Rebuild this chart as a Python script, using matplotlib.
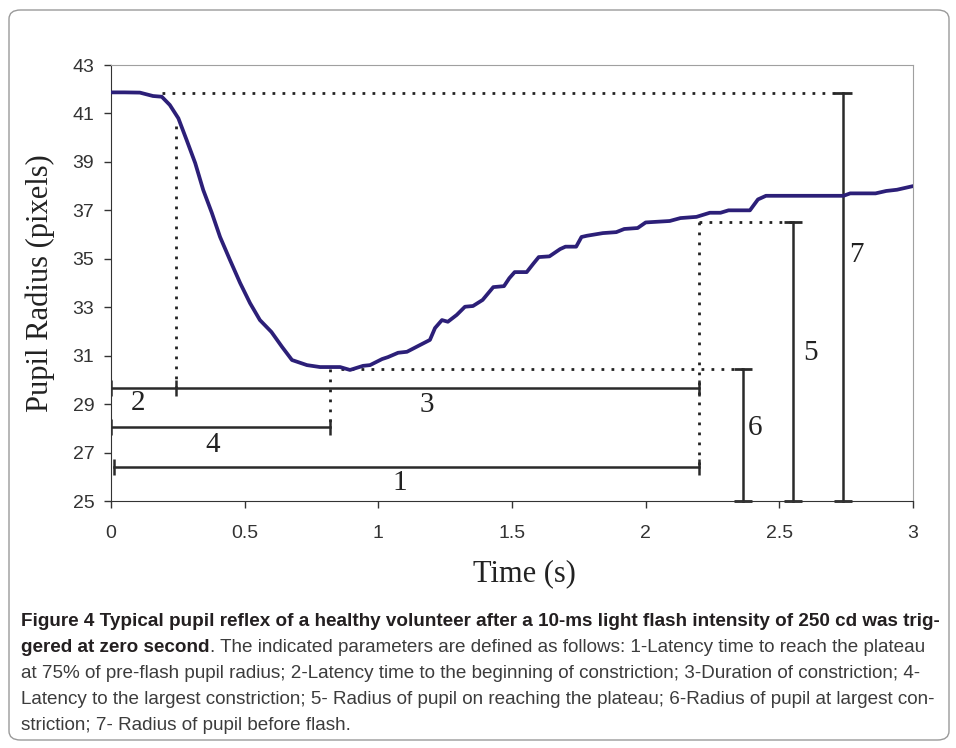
import matplotlib
matplotlib.use("Agg")
import matplotlib.pyplot as plt
from matplotlib.patches import FancyBboxPatch
from matplotlib import font_manager

# pupil radius trace
time_s = [0.00, 0.05, 0.108, 0.157, 0.19, 0.22, 0.252, 0.283, 0.315, 0.345, 0.377, 0.408,
          0.445, 0.483, 0.52, 0.557, 0.60, 0.64, 0.677, 0.733, 0.782, 0.857, 0.894, 0.943,
          0.969, 1.014, 1.036, 1.074, 1.107, 1.156, 1.193, 1.212, 1.238, 1.26, 1.293, 1.324,
          1.354, 1.39, 1.43, 1.47, 1.49, 1.51, 1.555, 1.58, 1.60, 1.64, 1.68, 1.70, 1.74,
          1.76, 1.78, 1.84, 1.89, 1.92, 1.97, 2.00, 2.09, 2.13, 2.19, 2.24, 2.28,
          2.31, 2.39, 2.42, 2.45, 2.74, 2.765, 2.86, 2.90, 2.94, 3.00]
radius = [41.87, 41.87, 41.86, 41.72, 41.69, 41.35, 40.80, 39.90, 38.95, 37.84, 36.90, 35.90,
          34.95, 34.00, 33.17, 32.47, 31.98, 31.36, 30.82, 30.61, 30.53, 30.53, 30.41, 30.58,
          30.61, 30.86, 30.94, 31.12, 31.16, 31.44, 31.65, 32.14, 32.47, 32.40, 32.68, 33.02,
          33.05, 33.30, 33.83, 33.87, 34.20, 34.45, 34.45, 34.80, 35.07, 35.10, 35.40, 35.50,
          35.50, 35.90, 35.95, 36.06, 36.10, 36.23, 36.27, 36.50, 36.56, 36.68, 36.73, 36.90,
          36.90, 37.00, 37.00, 37.45, 37.60, 37.60, 37.70, 37.70, 37.80, 37.85, 38.00]

# reference levels and times of the annotated parameters
r_before = 41.84
r_min = 30.47
r_plateau = 36.52
t_start = 0.245
t_min = 0.82
t_plateau = 2.2
x6, x5, x7 = 2.365, 2.55, 2.74
y23, y4, y1 = 29.66, 28.05, 26.4

labels = ["1", "2", "3", "4", "5", "6", "7"]
label_x = [1.08, 0.10, 1.18, 0.38, 2.615, 2.41, 2.79]
label_y = [25.75, 29.05, 28.95, 27.3, 31.1, 28.0, 35.15]

caption_lines = [
    [("Figure 4 Typical pupil reflex of a healthy volunteer after a 10-ms light flash intensity of 250 cd was trig-", "bold")],
    [("gered at zero second", "bold"),
     (". The indicated parameters are defined as follows: 1-Latency time to reach the plateau", "normal")],
    [("at 75% of pre-flash pupil radius; 2-Latency time to the beginning of constriction; 3-Duration of constriction; 4-", "normal")],
    [("Latency to the largest constriction; 5- Radius of pupil on reaching the plateau; 6-Radius of pupil at largest con-", "normal")],
    [("striction; 7- Radius of pupil before flash.", "normal")],
]

installed = {f.name for f in font_manager.fontManager.ttflist}
cap_font = "Liberation Sans Narrow" if "Liberation Sans Narrow" in installed else "Liberation Sans"
cap_size = 12.2 if cap_font == "Liberation Sans Narrow" else 13.6

fig = plt.figure(figsize=(9.56, 7.48), dpi=100)
frame = FancyBboxPatch((9 / 956, 8 / 748), 940 / 956, 730 / 748,
                       boxstyle="round,pad=0,rounding_size=0.012",
                       transform=fig.transFigure, fc="none", ec="#9a9a9a", lw=1.0, zorder=-1)
fig.patches.append(frame)

ax = fig.add_axes([111 / 956, 1 - 501 / 748, 802 / 956, 436 / 748])
ax.plot(time_s, radius, color="#2c1f78", lw=2.7, solid_capstyle="round",
        solid_joinstyle="round", zorder=3)

dot = dict(color="#222222", lw=2.0, ls=(0, (1, 2.6)))
bar = dict(color="#2a2a2a", lw=1.8)

# dotted guides
ax.plot([0.19, x7], [r_before, r_before], **dot)
ax.plot([t_start, t_start], [40.5, y23], **dot)
ax.plot([0.86, x6], [r_min, r_min], **dot)
ax.plot([t_min, t_min], [r_min, y4], **dot)
ax.plot([t_plateau, x5], [r_plateau, r_plateau], **dot)
ax.plot([t_plateau, t_plateau], [r_plateau, y1], **dot)

# horizontal time bars
ax.plot([0.0, t_plateau], [y23, y23], **bar)
ax.plot([0.0, t_start, t_plateau], [y23] * 3, ls="none", marker="|", ms=11, mew=1.8, color="#2a2a2a")
ax.plot([0.0, t_min], [y4, y4], marker="|", ms=11, mew=1.8, **bar)
ax.plot([0.012, t_plateau], [y1, y1], marker="|", ms=11, mew=1.8, **bar)

# vertical radius bars
for xv, top in [(x6, r_min), (x5, r_plateau), (x7, r_before)]:
    ax.plot([xv, xv], [25, top], marker="_", ms=13, mew=2.0, clip_on=False, **bar)

for s, lx, ly in zip(labels, label_x, label_y):
    ax.text(lx, ly, s, fontsize=21, family="Liberation Serif", color="#222222",
            ha="center", va="center")

ax.set_xlim(0, 3)
ax.set_ylim(25, 43)
ax.set_xticks([0, 0.5, 1, 1.5, 2, 2.5, 3])
ax.set_xticklabels(["0", "0.5", "1", "1.5", "2", "2.5", "3"])
ax.set_yticks(range(25, 44, 2))
ax.tick_params(direction="out", length=5, width=1, colors="#333333", labelsize=14)
ax.tick_params(axis="x", pad=12)
ax.tick_params(axis="y", pad=7)
for lab in ax.get_xticklabels() + ax.get_yticklabels():
    lab.set_family("Liberation Sans")
    lab.set_color("#333333")
ax.spines["left"].set_color("#333333")
ax.spines["bottom"].set_color("#333333")
ax.spines["top"].set_color("#a0a0a0")
ax.spines["right"].set_color("#a0a0a0")
ax.set_xlabel("Time (s)", family="Liberation Serif", fontsize=22, color="#222222")
ax.set_ylabel("Pupil Radius (pixels)", family="Liberation Serif", fontsize=22, color="#222222")
ax.xaxis.set_label_coords(0.515, -0.133)
ax.yaxis.set_label_coords(-0.07, 0.5)

# caption
fig.canvas.draw()
renderer = fig.canvas.get_renderer()
y0 = 1 - 621 / 748
for i, parts in enumerate(caption_lines):
    x = 21 / 956
    y = y0 - i * 26 / 748
    for txt, weight in parts:
        t = fig.text(x, y, txt, fontsize=cap_size, family=cap_font, weight=weight,
                     color="#231f20" if weight == "bold" else "#3c3c3c", va="center", ha="left")
        bb = t.get_window_extent(renderer)
        x += bb.width / fig.bbox.width

fig.savefig("out.png", dpi=100)
